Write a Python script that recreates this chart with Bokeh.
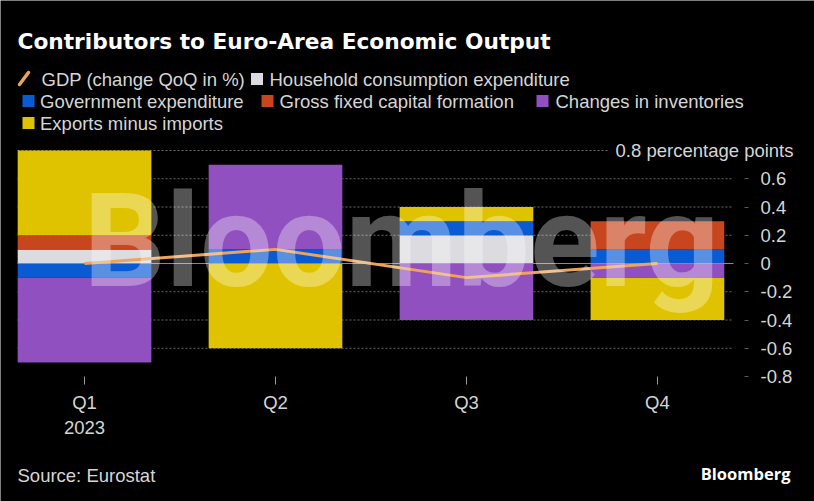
from bokeh.plotting import figure
from bokeh.models import Range1d, FixedTicker, LinearAxis
from bokeh.core.properties import value
from bokeh.embed import file_html
from bokeh.resources import INLINE

# ---- data ----
quarters = ["Q1", "Q2", "Q3", "Q4"]
year_label = "2023"
gdp = [0.0, 0.1, -0.1, 0.0]
household = [0.1, 0.0, 0.2, 0.0]
government = [-0.1, 0.1, 0.1, 0.1]
gfcf = [0.1, 0.0, 0.0, 0.2]
inventories = [-0.6, 0.6, -0.4, -0.1]
exports = [0.6, -0.6, 0.1, -0.3]

gdp_name = "GDP (change QoQ in %)"
series_names = ["Household consumption expenditure", "Government expenditure",
                "Gross fixed capital formation", "Changes in inventories",
                "Exports minus imports"]
series_values = [household, government, gfcf, inventories, exports]
series_colors = ["#dcdce0", "#0a5ad2", "#c8461e", "#9150c0", "#e0c300"]
gdp_color = "#eda35a"

y_ticks = [-0.8, -0.6, -0.4, -0.2, 0.0, 0.2, 0.4, 0.6, 0.8]
y_tick_labels = ["-0.8", "-0.6", "-0.4", "-0.2", "0", "0.2", "0.4", "0.6", "0.8"]
unit_label = y_tick_labels[-1] + " percentage points"
title = "Contributors to Euro-Area Economic Output"
source = "Source: Eurostat"
brand = "Bloomberg"

# ---- geometry (canvas pixels) ----
W, H = 814, 501
FL, FR, FT, FB = 17, 732, 150, 376      # plot area edges
X0, X1 = -0.351, 3.393                   # data at FL / FR
Y0, Y1 = y_ticks[0], y_ticks[-1]         # data at FB / FT
BG = "black"
TXT_COL = "#d6d6d6"
GRID_COL = "#6e6e6e"
FONT = "Liberation Sans"
FS = "18.5px"


def dx(px):
    return X0 + (px - FL) * (X1 - X0) / (FR - FL)


def dy(py):
    return Y1 - (py - FT) * (Y1 - Y0) / (FB - FT)


p = figure(width=W, height=H, x_range=Range1d(dx(0), dx(W)), y_range=Range1d(dy(H), dy(0)),
           output_backend="svg", toolbar_location=None,
           background_fill_color=BG, border_fill_color=BG, outline_line_color=None,
           x_axis_location=None, y_axis_location=None,
           min_border_left=0, min_border_right=0, min_border_top=0, min_border_bottom=0)
p.grid.visible = False

# dotted grid lines limited to the plot area (top one stops before the unit label)
grid_y = [t for t in y_ticks[1:] if t != 0]
grid_x1 = [X1 if t != Y1 else dx(607) for t in grid_y]
p.segment(x0=[X0] * len(grid_y), y0=grid_y, x1=grid_x1, y1=grid_y,
          line_color=GRID_COL, line_dash="2 2", line_width=1)

# right value axis
ya = LinearAxis(fixed_location=dx(744), ticker=FixedTicker(ticks=y_ticks[:-1]))
ya.major_label_overrides = dict(zip(y_ticks[:-1], y_tick_labels[:-1]))
ya.axis_line_color = None
ya.major_tick_line_color = "#5a5a5a"
ya.major_tick_out = 4
ya.major_tick_in = 0
ya.minor_tick_line_color = None
ya.major_label_standoff = 12
ya.major_label_text_font = FONT
ya.major_label_text_font_size = FS
ya.major_label_text_color = TXT_COL
p.add_layout(ya, "right")

# bottom category axis
xa = LinearAxis(fixed_location=Y0, ticker=FixedTicker(ticks=list(range(len(quarters)))))
xa.major_label_overrides = {i: (q + "\n" + year_label if i == 0 else q) for i, q in enumerate(quarters)}
xa.axis_line_color = None
xa.major_tick_line_color = "#9a9a9a"
xa.major_tick_out = 8
xa.major_tick_in = 0
xa.minor_tick_line_color = None
xa.major_label_standoff = 7
xa.major_label_text_font = FONT
xa.major_label_text_font_size = FS
xa.major_label_text_color = TXT_COL
p.add_layout(xa, "below")

# stacked bars (positive and negative stacks separately)
xs = list(range(len(quarters)))
pos = [0.0] * len(quarters)
neg = [0.0] * len(quarters)
for vals, col in zip(series_values, series_colors):
    bottoms, tops = [], []
    for i, v in enumerate(vals):
        if v >= 0:
            bottoms.append(pos[i]); tops.append(pos[i] + v); pos[i] += v
        else:
            bottoms.append(neg[i] + v); tops.append(neg[i]); neg[i] += v
    p.vbar(x=xs, width=0.70, bottom=bottoms, top=tops, fill_color=col, line_color=None)

# zero line
p.segment(x0=[X0], y0=[0], x1=[dx(733)], y1=[0], line_color="#8a8a8a", line_width=1.2)

p.line(xs, gdp, line_color=gdp_color, line_width=3)

# unit label on the top grid line
p.text(x=[dx(793)], y=[Y1], text=[unit_label], text_align="right", text_baseline="middle",
       text_font=value(FONT), text_font_size=FS, text_color=TXT_COL)

# ---- header ----
p.text(x=[dx(17)], y=[dy(41)], text=[title], text_font=value("DejaVu Sans"),
       text_font_style="bold", text_font_size="21.7px", text_color="white",
       text_baseline="middle")

p.segment(x0=[dx(19)], y0=[dy(84)], x1=[dx(28)], y1=[dy(72)], line_color=gdp_color,
          line_width=3.5, line_cap="round")
p.text(x=[dx(41)], y=[dy(78.5)], text=[gdp_name], text_font=value(FONT), text_font_size=FS,
       text_color=TXT_COL, text_baseline="middle")

sq_x = [250.5, 22, 261, 536, 22]
tx_x = [269, 39.5, 279, 555, 39.5]
row_y = [78.5, 100.5, 100.5, 100.5, 122.5]
p.rect(x=[dx(s + 6) for s in sq_x], y=[dy(r) for r in row_y], width=12, height=12,
       width_units="screen", height_units="screen", fill_color=series_colors, line_color=None)
p.text(x=[dx(t) for t in tx_x], y=[dy(r) for r in row_y], text=series_names,
       text_font=value(FONT), text_font_size=FS, text_color=TXT_COL, text_baseline="middle")

# ---- footer ----
p.text(x=[dx(17)], y=[dy(474.5)], text=[source], text_font=value(FONT), text_font_size=FS,
       text_color=TXT_COL, text_baseline="middle")
p.text(x=[dx(790)], y=[dy(472.5)], text=[brand], text_font=value("Open Sans"),
       text_font_style="bold", text_font_size="16.5px", text_color="white",
       text_baseline="middle", text_align="right")

# watermark on top
p.text(x=[dx(83)], y=[dy(240.5)], text=[brand], text_font=value("Roboto"),
       text_font_style="bold", text_font_size="129px", text_color="white",
       text_alpha=0.33, text_baseline="middle")

open("out.html", "w").write(file_html(p, INLINE))
